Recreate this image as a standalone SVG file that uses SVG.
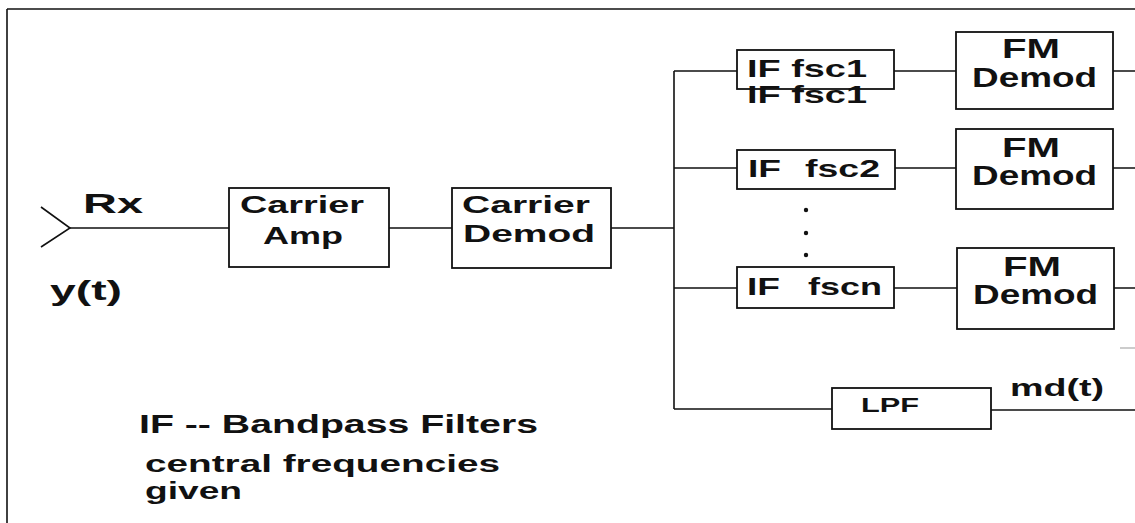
<svg xmlns="http://www.w3.org/2000/svg" width="1135" height="523" viewBox="0 0 1135 523">
<style>
.box{fill:#fff;stroke:#111;stroke-width:1.8}
.ln{fill:none;stroke:#111;stroke-width:1.6}
text{font-family:"Liberation Sans",Arial,sans-serif;font-weight:bold;fill:#111}
.t24{font-size:24px}
.t28{font-size:28px}
.t21{font-size:21px}
</style>
<rect width="1135" height="523" fill="#fff"/>
<g id="frame">
<path class="ln" d="M7,9 H1135" stroke-width="2.2"/>
<path class="ln" d="M7,9 V523"/>
</g>
<g id="connectors">
<polyline class="ln" points="41,207 70,228 41,247"/>
<path class="ln" d="M70,228 H229 M389,228 H452 M611,228 H674 M674,71 V409"/>
<path class="ln" d="M674,71 H737 M894,71 H956 M1113,71 H1135"/>
<path class="ln" d="M674,168 H737 M895,168 H956 M1113,168 H1135"/>
<path class="ln" d="M674,288 H737 M894,288 H957 M1114,288 H1135"/>
<path class="ln" d="M674,409 H832 M991,410 H1135"/>
<path d="M1120,348 H1135" stroke="#999" stroke-width="1" fill="none"/>
</g>
<g id="rx">
<text class="t28" x="83" y="213" textLength="60" lengthAdjust="spacingAndGlyphs">Rx</text>
<text class="t28" x="50" y="300" textLength="72" lengthAdjust="spacingAndGlyphs">y(t)</text>
</g>
<g id="carrier-amp">
<rect class="box" x="229" y="188" width="160" height="79"/>
<text class="t24" x="240" y="213" textLength="124" lengthAdjust="spacingAndGlyphs">Carrier</text>
<text class="t24" x="263" y="244" textLength="80" lengthAdjust="spacingAndGlyphs">Amp</text>
</g>
<g id="carrier-demod">
<rect class="box" x="452" y="188" width="159" height="80"/>
<text class="t24" x="462" y="213" textLength="128" lengthAdjust="spacingAndGlyphs">Carrier</text>
<text class="t24" x="463" y="242" textLength="132" lengthAdjust="spacingAndGlyphs">Demod</text>
</g>
<g id="if-fsc1">
<rect class="box" x="737" y="50" width="157" height="39"/>
<text class="t24" x="747" y="77" textLength="120" lengthAdjust="spacingAndGlyphs">IF fsc1</text>
<text class="t24" x="747" y="103" textLength="120" lengthAdjust="spacingAndGlyphs">IF fsc1</text>
</g>
<g id="if-fsc2">
<rect class="box" x="737" y="150" width="158" height="39"/>
<text class="t24" x="748" y="177" textLength="33" lengthAdjust="spacingAndGlyphs">IF</text>
<text class="t24" x="805" y="177" textLength="75" lengthAdjust="spacingAndGlyphs">fsc2</text>
</g>
<g id="dots">
<circle cx="806" cy="210" r="2.2" fill="#111"/>
<circle cx="806" cy="233" r="2.2" fill="#111"/>
<circle cx="806" cy="255" r="2.2" fill="#111"/>
</g>
<g id="if-fscn">
<rect class="box" x="737" y="267" width="157" height="41"/>
<text class="t24" x="747" y="295" textLength="33" lengthAdjust="spacingAndGlyphs">IF</text>
<text class="t24" x="808" y="295" textLength="74" lengthAdjust="spacingAndGlyphs">fscn</text>
</g>
<g id="fm-demod-1">
<rect class="box" x="956" y="32" width="157" height="77"/>
<text class="t28" x="1002" y="58" textLength="58" lengthAdjust="spacingAndGlyphs">FM</text>
<text class="t28" x="972" y="87" textLength="125" lengthAdjust="spacingAndGlyphs">Demod</text>
</g>
<g id="fm-demod-2">
<rect class="box" x="956" y="129" width="157" height="80"/>
<text class="t28" x="1002" y="157" textLength="58" lengthAdjust="spacingAndGlyphs">FM</text>
<text class="t28" x="972" y="185" textLength="125" lengthAdjust="spacingAndGlyphs">Demod</text>
</g>
<g id="fm-demod-3">
<rect class="box" x="957" y="248" width="157" height="81"/>
<text class="t28" x="1003" y="276" textLength="58" lengthAdjust="spacingAndGlyphs">FM</text>
<text class="t28" x="973" y="304" textLength="125" lengthAdjust="spacingAndGlyphs">Demod</text>
</g>
<g id="lpf">
<rect class="box" x="832" y="388" width="159" height="41"/>
<text class="t21" x="861" y="412" textLength="58" lengthAdjust="spacingAndGlyphs">LPF</text>
</g>
<g id="md-label">
<text class="t24" x="1010" y="396" textLength="94" lengthAdjust="spacingAndGlyphs">md(t)</text>
</g>
<g id="legend">
<text x="139" y="433" font-size="25" textLength="399" lengthAdjust="spacingAndGlyphs">IF -- Bandpass Filters</text>
<text x="145" y="472" font-size="23" textLength="355" lengthAdjust="spacingAndGlyphs">central frequencies</text>
<text x="145" y="499" font-size="23" textLength="97" lengthAdjust="spacingAndGlyphs">given</text>
</g>
</svg>
